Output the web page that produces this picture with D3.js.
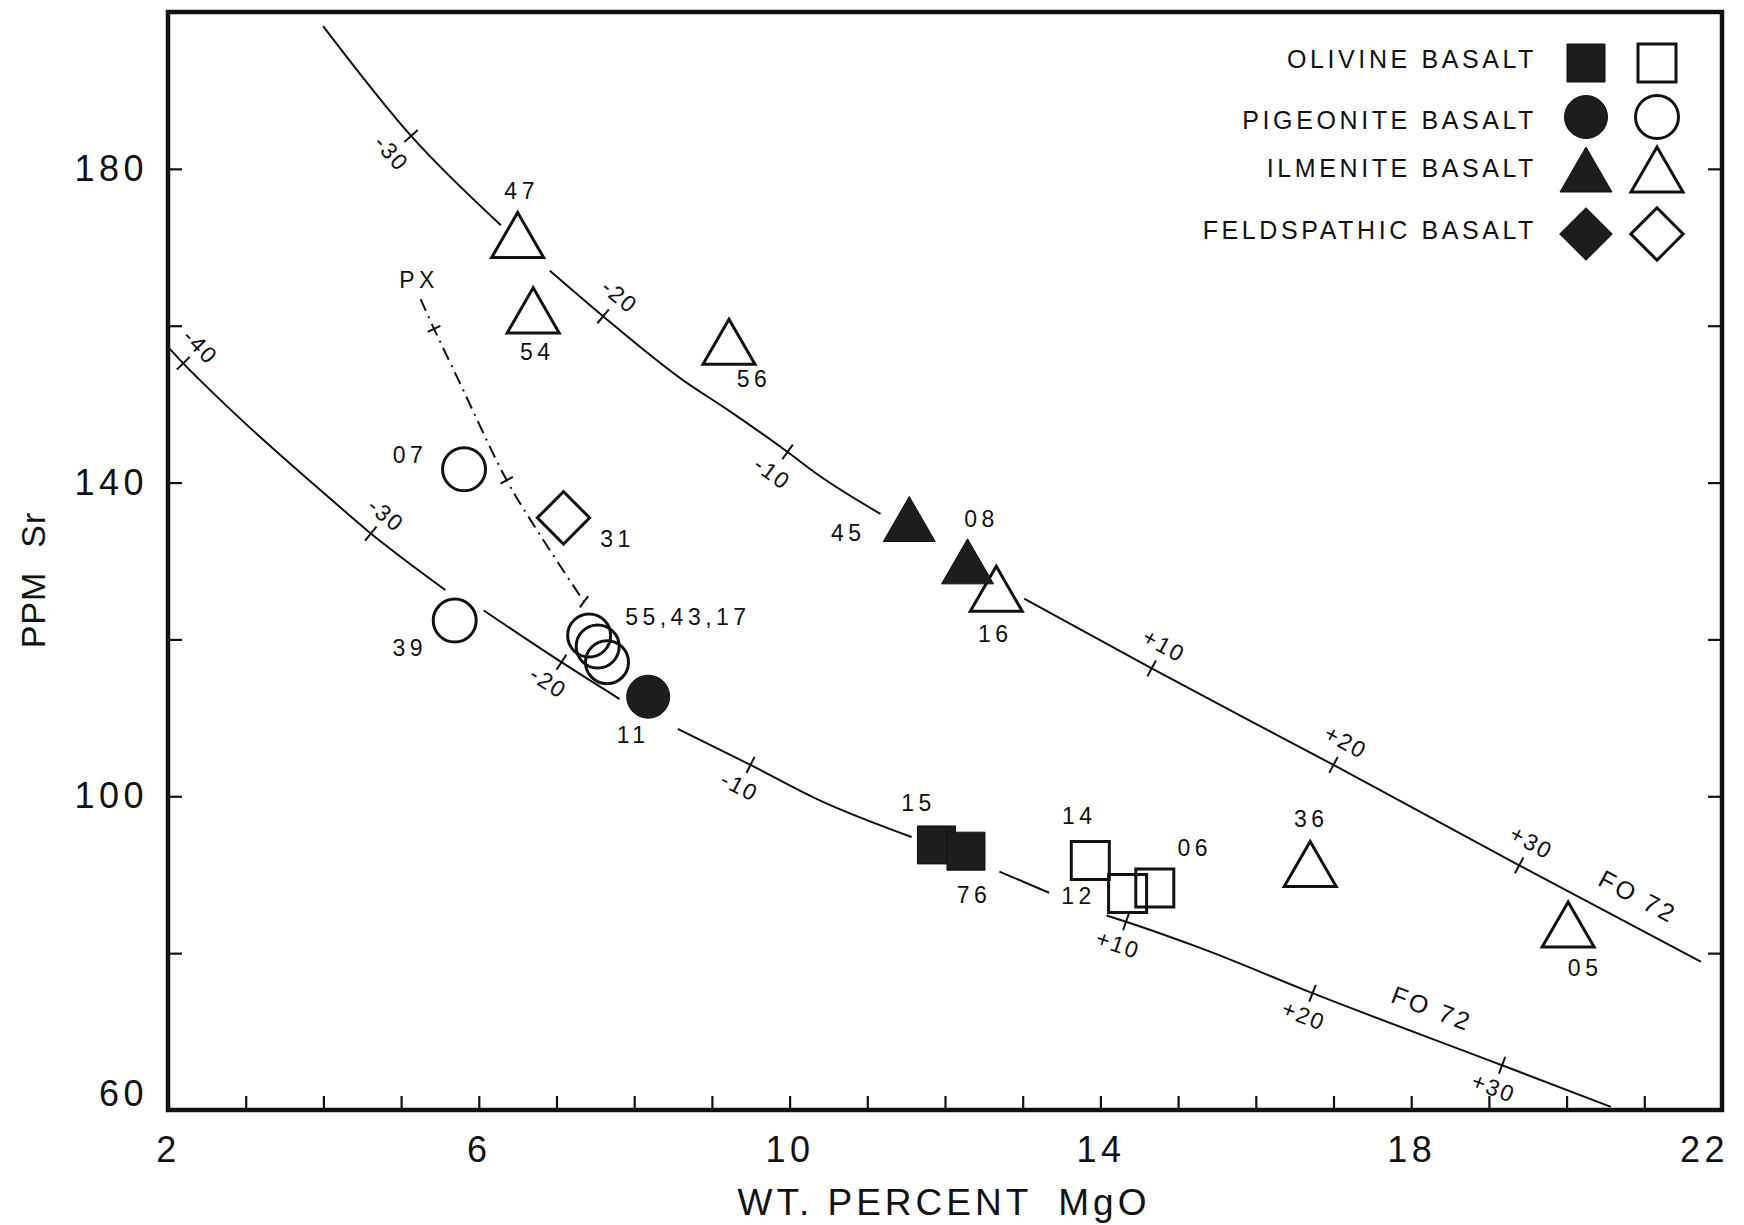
<!DOCTYPE html>
<meta charset="utf-8">

<style>

body { margin: 0; background: #fff; }
text { font-family: "Liberation Sans", Arial, sans-serif; fill: #111; }
.frame { fill: none; stroke: #111; stroke-width: 4.5px; }
.curve { fill: none; stroke: #111; stroke-width: 2px; }
.px { fill: none; stroke: #111; stroke-width: 2px; stroke-dasharray: 13 6 2 6; }
.axis .domain { display: none; }
.axis line { stroke: #111; stroke-width: 2.2px; }
.axis text { font-size: 36px; letter-spacing: 4.5px; font-family: "Liberation Sans", Arial, sans-serif; fill: #111; }
.title { font-size: 37px; letter-spacing: 4px; }
.plabel { font-size: 23px; letter-spacing: 4.5px; }
.clabel { font-size: 23px; letter-spacing: 2px; }
.legend { font-size: 25px; letter-spacing: 3.6px; }

</style>

<body>

<script src="https://d3js.org/d3.v7.min.js"></script>

<script>

	// axis ticks and labels
	var xTicks = d3.range(2, 23);
	var xLabels = [2, 6, 10, 14, 18, 22];
	var yTicks = [60, 80, 100, 120, 140, 160, 180, 200];
	var yLabels = [60, 100, 140, 180];

	// legend
	var legendNames = ["OLIVINE BASALT", "PIGEONITE BASALT", "ILMENITE BASALT", "FELDSPATHIC BASALT"];
	var legendShapes = ["square", "circle", "triangle", "diamond"];

	// samples: wt% MgO, ppm Sr
	var sampleIds    = ["47", "54", "56", "16", "36", "05", "45", "08", "07", "39", "55", "43", "17", "11", "31", "15", "76", "14", "12", "06"];
	var sampleMgO    = [6.50, 6.70, 9.22, 12.66, 16.70, 20.02, 11.54, 12.29, 5.81, 5.69, 7.42, 7.53, 7.65, 8.18, 7.09, 11.89, 12.27, 13.87, 14.35, 14.70];
	var sampleSr     = [170.6, 161.0, 157.0, 125.5, 90.4, 82.7, 134.4, 129.0, 141.7, 122.4, 120.5, 119.1, 117.1, 112.7, 135.5, 93.8, 93.0, 91.8, 87.6, 88.3];
	var sampleShape  = ["triangle", "triangle", "triangle", "triangle", "triangle", "triangle", "triangle", "triangle",
	                    "circle", "circle", "circle", "circle", "circle", "circle", "diamond",
	                    "square", "square", "square", "square", "square"];
	var sampleFilled = [false, false, false, false, false, false, true, true,
	                    false, false, false, false, false, true, false,
	                    true, true, false, false, false];

	// olivine fractionation curves (null = break in the line)
	var upperMgO = [3.996, 5.128, 6.285, null, 6.915, 7.600, 8.636, 9.20, 9.974, 10.38, 11.17, null, 13.02, 14.66, 17.00, 19.39, 21.73];
	var upperSr  = [198.2, 184.2, 172.8, null, 167.0, 161.2, 153.0, 149.3, 143.9, 140.9, 136.0, null, 125.2, 116.3, 104.0, 91.2, 78.9];
	var upperTickMgO = [5.128, 7.600, 9.974, 14.66, 17.00, 19.39];
	var upperTickText = ["-30", "-20", "-10", "+10", "+20", "+30"];

	var lowerMgO = [2.00, 2.196, 2.418, 4.315, 4.610, 5.052, 5.570, null, 6.063, 7.064, 7.812, null, 8.561, 9.497, 10.38, 11.57, null, 12.70, 13.34, null, 14.08, 14.33, 15.30, 16.73, 19.17, 20.57];
	var lowerSr  = [157.3, 155.2, 153.0, 136.0, 133.5, 130.1, 126.3, null, 123.7, 117.1, 112.4, null, 108.6, 104.0, 99.5, 94.8, null, 90.4, 87.7, null, 84.8, 84.0, 80.6, 74.9, 65.7, 60.4];
	var lowerTickMgO = [2.196, 4.610, 7.064, 9.497, 14.33, 16.73, 19.17];
	var lowerTickText = ["-40", "-30", "-20", "-10", "+10", "+20", "+30"];

	// pyroxene control line
	var pxMgO = [5.251, 5.424, 5.742, 6.359, 6.777, 7.354];
	var pxSr  = [163.4, 159.6, 153.0, 140.3, 133.5, 124.8];
	var pxTickMgO = [5.424, 6.359, 7.354];

	// layout only (pixel offsets / sides), not data
	var labelDx = [4, 4, 25, -1, 1, 17, -61, 14, -54, -45, 36, 0, 0, -15, 54, -18, 8, -11, -49, 40];
	var labelDy = [-52, 34, 30, 38, -53, 36, 6, -50, -14, 27, -19, 0, 0, 38, 21, -42, 44, -45, 2, -40];
	var upperSide = [-1, 1, -1, 1, 1, 1];
	var lowerSide = [1, 1, -1, -1, -1, -1, -1];
	var legendRowY = [63, 117, 170, 234];
	var legendTextY = [59, 120, 168, 230];

	// set the dimensions and margins of the graph
	var width = 1744, height = 1225;
	var margin = {top: 12, right: 22, bottom: 115, left: 168};

	var x = d3.scaleLinear().domain([2, 22]).range([margin.left, width - margin.right]);
	var y = d3.scaleLinear().domain([60, 200]).range([height - margin.bottom, margin.top]);

	var svg = d3.select("body").append("svg")
		.attr("width", width)
		.attr("height", height);

	svg.append("rect").attr("width", width).attr("height", height).attr("fill", "#fff");

	// axes (ticks point inward)
	var xAxis = svg.append("g").attr("class", "axis")
		.attr("transform", "translate(0," + y(60) + ")")
		.call(d3.axisBottom(x).tickValues(xTicks).tickSize(-14).tickSizeOuter(0).tickPadding(26)
			.tickFormat(function(d) { return xLabels.indexOf(d) >= 0 ? d : ""; }));
	// last label is pulled in from the right edge
	xAxis.selectAll(".tick text").filter(function(d) { return d === 22; }).attr("dx", "-0.5em");

	var yAxisL = svg.append("g").attr("class", "axis")
		.attr("transform", "translate(" + x(2) + ",0)")
		.call(d3.axisLeft(y).tickValues(yTicks).tickSize(-14).tickSizeOuter(0).tickPadding(20)
			.tickFormat(function(d) { return yLabels.indexOf(d) >= 0 ? d : ""; }));
	// the 60 label sits a little above the corner
	yAxisL.selectAll(".tick text").filter(function(d) { return d === 60; }).attr("dy", "-0.12em");

	svg.append("g").attr("class", "axis")
		.attr("transform", "translate(" + x(22) + ",0)")
		.call(d3.axisRight(y).tickValues(yTicks).tickSize(-14).tickSizeOuter(0).tickFormat(""));

	svg.append("rect").attr("class", "frame")
		.attr("x", x(2)).attr("y", y(200))
		.attr("width", x(22) - x(2)).attr("height", y(60) - y(200));

	// axis titles
	var xt = svg.append("text").attr("class", "title")
		.attr("x", 944).attr("y", 1215).attr("text-anchor", "middle")
		.text("WT. PERCENT");
	xt.append("tspan").attr("dx", 26).text("MgO");

	var yt = svg.append("text").attr("class", "title")
		.attr("transform", "translate(45,580) rotate(-90)")
		.attr("text-anchor", "middle")
		.style("font-size", "34px").style("letter-spacing", "1px")
		.text("PPM");
	yt.append("tspan").attr("dx", 24).text("Sr");

	// curves
	function pairs(xs, ys) {
		return xs.map(function(v, i) { return v === null ? null : [v, ys[i]]; });
	}
	var valueline = d3.line()
		.defined(function(d) { return d !== null; })
		.x(function(d) { return x(d[0]); })
		.y(function(d) { return y(d[1]); })
		.curve(d3.curveMonotoneX);

	var upper = pairs(upperMgO, upperSr);
	var lower = pairs(lowerMgO, lowerSr);
	var px = pairs(pxMgO, pxSr);

	svg.append("path").datum(upper).attr("class", "curve").attr("d", valueline);
	svg.append("path").datum(lower).attr("class", "curve").attr("d", valueline);
	svg.append("path").datum(px).attr("class", "px")
		.attr("d", d3.line().x(function(d) { return x(d[0]); }).y(function(d) { return y(d[1]); }).curve(d3.curveCatmullRom));

	function onCurve(pts, mg) {
		var p = pts.filter(function(d) { return d !== null; });
		for (var i = 1; i < p.length; i++) {
			if (mg <= p[i][0]) {
				var t = (mg - p[i - 1][0]) / (p[i][0] - p[i - 1][0]);
				return p[i - 1][1] + t * (p[i][1] - p[i - 1][1]);
			}
		}
		return p[p.length - 1][1];
	}
	function angleAt(pts, mg) {
		var a = mg - 0.35, b = mg + 0.35;
		return Math.atan2(y(onCurve(pts, b)) - y(onCurve(pts, a)), x(b) - x(a));
	}

	function curveTicks(pts, ticks, labels, sides, half, dist) {
		ticks.forEach(function(mg, i) {
			var cx = x(mg), cy = y(onCurve(pts, mg)), th = angleAt(pts, mg);
			var nx = Math.sin(th), ny = -Math.cos(th);
			svg.append("line").attr("class", "curve")
				.attr("x1", cx - nx * half).attr("y1", cy - ny * half)
				.attr("x2", cx + nx * half).attr("y2", cy + ny * half);
			if (!labels) return;
			var lx = cx + sides[i] * nx * dist, ly = cy + sides[i] * ny * dist;
			svg.append("text").attr("class", "clabel")
				.attr("transform", "translate(" + lx + "," + ly + ") rotate(" + (th * 180 / Math.PI) + ")")
				.attr("text-anchor", "middle").attr("dy", "0.35em")
				.text(labels[i]);
		});
	}
	curveTicks(upper, upperTickMgO, upperTickText, upperSide, 9, 26);
	curveTicks(lower, lowerTickMgO, lowerTickText, lowerSide, 9, 24);
	curveTicks(px, pxTickMgO, null, null, 7, 0);

	// FO 72 labels along each curve
	[[upper, 20.75], [lower, 18.14]].forEach(function(c) {
		var cx = x(c[1]), cy = y(onCurve(c[0], c[1])), th = angleAt(c[0], c[1]);
		svg.append("text").attr("class", "clabel")
			.style("font-size", "25px").style("letter-spacing", "3px")
			.attr("transform", "translate(" + (cx + Math.sin(th) * 28) + "," + (cy - Math.cos(th) * 28) + ") rotate(" + (th * 180 / Math.PI) + ")")
			.attr("text-anchor", "middle").attr("dy", "0.35em")
			.text("FO 72");
	});

	svg.append("text").attr("class", "plabel")
		.attr("x", x(5.23)).attr("y", y(165.8)).attr("dy", "0.35em")
		.attr("text-anchor", "middle").text("PX");

	// markers
	var symbolTypes = {square: d3.symbolSquare, circle: d3.symbolCircle, triangle: d3.symbolTriangle, diamond: d3.symbolSquare};
	var symbolSizes = {square: 1444, circle: 1452, triangle: 1171, diamond: 1369};

	function drawMarker(shape, filled, cx, cy) {
		svg.append("path")
			.attr("d", d3.symbol().type(symbolTypes[shape]).size(symbolSizes[shape])())
			.attr("transform", "translate(" + cx + "," + cy + ")" + (shape === "diamond" ? " rotate(45)" : ""))
			.attr("fill", filled ? "#1d1d1d" : (shape === "triangle" ? "#fff" : "none"))
			.attr("stroke", "#111")
			.attr("stroke-width", filled ? 1 : 3);
	}

	sampleIds.forEach(function(id, i) {
		drawMarker(sampleShape[i], sampleFilled[i], x(sampleMgO[i]), y(sampleSr[i]));
	});

	// sample labels ("55,43,17" shares one label)
	sampleIds.forEach(function(id, i) {
		if (id === "43" || id === "17") return;
		var txt = id === "55" ? "55,43,17" : id;
		svg.append("text").attr("class", "plabel")
			.attr("x", x(sampleMgO[i]) + labelDx[i])
			.attr("y", y(sampleSr[i]) + labelDy[i])
			.attr("dy", "0.35em")
			.attr("text-anchor", id === "55" ? "start" : "middle")
			.text(txt);
	});

	// legend
	legendNames.forEach(function(name, i) {
		var ly = legendRowY[i];
		svg.append("text").attr("class", "legend")
			.attr("x", 1537).attr("y", legendTextY[i]).attr("dy", "0.35em")
			.attr("text-anchor", "end").text(name);
		drawMarker(legendShapes[i], true, 1586, ly + (legendShapes[i] === "triangle" ? 7 : 0));
		drawMarker(legendShapes[i], false, 1657, ly + (legendShapes[i] === "triangle" ? 7 : 0));
	});

</script>
</body>
